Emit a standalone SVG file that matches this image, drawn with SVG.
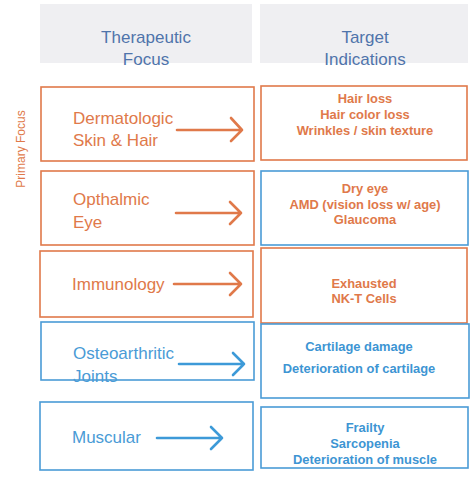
<svg xmlns="http://www.w3.org/2000/svg" width="474" height="478" viewBox="0 0 474 478">
<style>
.hdr{fill:#efeff2}
.ht{font-family:"Liberation Sans",Arial,sans-serif;font-size:17px;fill:#4f74ab;text-anchor:middle}
.bo{fill:#fff;stroke:#e0794a;stroke-width:1.6}
.bb{fill:#fff;stroke:#4a9bd6;stroke-width:1.6}
.lo{font-family:"Liberation Sans",Arial,sans-serif;font-size:17px;fill:#e0794a}
.lb{font-family:"Liberation Sans",Arial,sans-serif;font-size:17px;fill:#4a9bd6}
.ro{font-family:"Liberation Sans",Arial,sans-serif;font-size:12.9px;font-weight:bold;fill:#e0794a;text-anchor:middle}
.rb{font-family:"Liberation Sans",Arial,sans-serif;font-size:12.9px;font-weight:bold;fill:#3d95d3;text-anchor:middle}
.ao{fill:none;stroke:#e0794a;stroke-width:2.6;stroke-linecap:round;stroke-linejoin:round}
.ab{fill:none;stroke:#3d9ad8;stroke-width:2.6;stroke-linecap:round;stroke-linejoin:round}
</style>
<rect width="474" height="478" fill="#fff"/>
<g id="header-focus"><rect class="hdr" x="40" y="4" width="212" height="59"/><text class="ht" x="146" y="43">Therapeutic</text><text class="ht" x="146" y="65">Focus</text></g>
<g id="header-targets"><rect class="hdr" x="260" y="4" width="208" height="59"/><text class="ht" x="365" y="43">Target</text><text class="ht" x="365" y="65">Indications</text></g>
<g id="primary-focus-label"><text transform="translate(25,149) rotate(-90)" text-anchor="middle" font-family="Liberation Sans, Arial, sans-serif" font-size="12" fill="#e0794a">Primary Focus</text></g>

<g id="focus-derm"><rect class="bo" x="41" y="87" width="213" height="74"/><text class="lo" x="73" y="124">Dermatologic</text><text class="lo" x="73" y="146">Skin &amp; Hair</text></g>
<g id="target-derm"><rect class="bo" x="261" y="86" width="206" height="74"/><text class="ro" x="365" y="103">Hair loss</text><text class="ro" x="365" y="119">Hair color loss</text><text class="ro" x="365" y="135">Wrinkles / skin texture</text></g>

<g id="focus-eye"><rect class="bo" x="41" y="171" width="213" height="74"/><text class="lo" x="73" y="205">Opthalmic</text><text class="lo" x="73" y="228">Eye</text></g>
<g id="target-eye"><rect class="bb" x="261" y="171" width="207" height="74"/><text class="ro" x="365" y="193">Dry eye</text><text class="ro" x="365" y="208.5">AMD (vision loss w/ age)</text><text class="ro" x="365" y="224">Glaucoma</text></g>

<g id="focus-immuno"><rect class="bo" x="40" y="251" width="213" height="66"/><text class="lo" x="72" y="290">Immunology</text></g>
<g id="target-immuno"><rect class="bo" x="261" y="248" width="206" height="75"/><text class="ro" x="364" y="288">Exhausted</text><text class="ro" x="364" y="303">NK-T Cells</text></g>

<g id="target-joints"><rect class="bb" x="261" y="324" width="208" height="74"/><text class="rb" x="359" y="351">Cartilage damage</text><text class="rb" x="359" y="373">Deterioration of cartilage</text></g>
<g id="focus-joints"><text class="lb" x="73" y="359">Osteoarthritic</text><text class="lb" x="73" y="382">Joints</text><rect x="41" y="322" width="213" height="58" fill="none" stroke="#4a9bd6" stroke-width="1.6"/></g>

<g id="focus-muscle"><rect class="bb" x="40" y="402" width="213" height="68"/><text class="lb" x="72" y="443">Muscular</text></g>
<g id="target-muscle"><rect class="bb" x="261" y="407" width="207" height="61"/><text class="rb" x="365" y="432">Frailty</text><text class="rb" x="365" y="448">Sarcopenia</text><text class="rb" x="365" y="463.5">Deterioration of muscle</text></g>

<g id="connectors">
<path class="ao" d="M177 130H242M231 118L242 130L231 141"/>
<path class="ao" d="M176 213H241M230 202L241 213L230 224"/>
<path class="ao" d="M174 284H241M230 273L241 284L230 295"/>
<path class="ab" d="M179 364H244M233 353L244 364L233 375"/>
<path class="ab" d="M157 438H222M211 427L222 438L211 449"/>
</g>
</svg>
